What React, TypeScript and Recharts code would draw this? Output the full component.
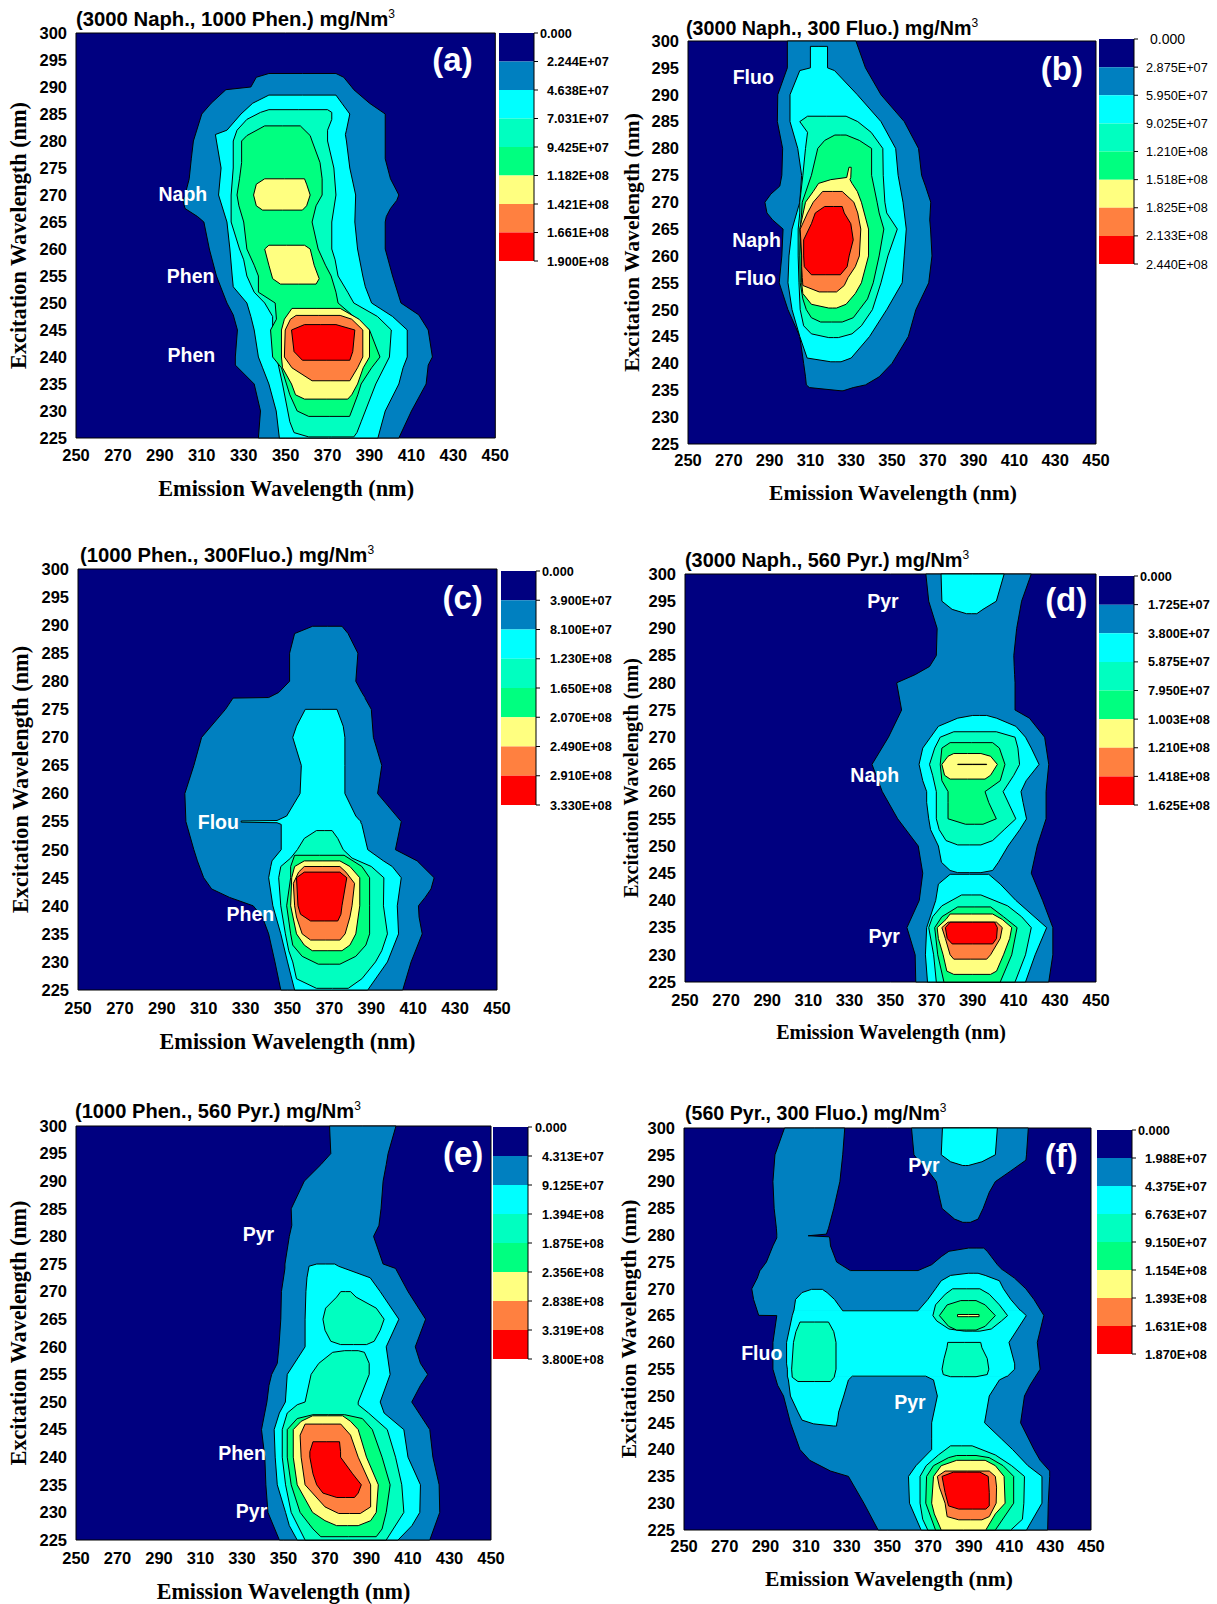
import { AreaChart, Area, BarChart, Bar, XAxis, YAxis, ReferenceDot } from "recharts";

// contour levels, dark blue background first
const levelColors = ["#000080", "#0080C0", "#00FFFF", "#00FFC0", "#00FF80", "#FFFF80", "#FF8040", "#FF0000"];
const xTicks = [250, 270, 290, 310, 330, 350, 370, 390, 410, 430, 450];
const yTicks = [225, 230, 235, 240, 245, 250, 255, 260, 265, 270, 275, 280, 285, 290, 295, 300];
const barTicks = [0, 1, 2, 3, 4, 5, 6, 7, 8];
const background = [[225, 250, 450], [300, 250, 450]];

// every contour row is [excitation, emission left, emission right]
// (a)
const a1 = [[225,337,404],[230,338,410],[235,335,417],[238.5,326,418],[240,326,420],[245,327,418],[247.8,325,413.5],[250,322,405],[255,317,401],[260,313.6,397.5],[265,311,397.5],[266,308,398],[267.5,302,400],[269,301,403],[270,302,404],[273,304,400],[276.7,305,397.5],[280,306,397.5],[285,310,397.5],[287,314.5,390],[289.5,321.5,382.5],[290,333.4,381.5],[291.8,336,377.7],[292.5,342,374]];
const a2 = [[225,347,394],[230,345.5,397.5],[235,342,404],[238,339,406],[240,337,408],[245,335,408],[247.5,333.4,401],[250,331.5,391],[253,325,388],[255,324.5,386.8],[260,323.4,384.3],[265,322,383],[270,318,383.4],[275,319.2,380.6],[280,317,379],[281.2,316.5,378.5],[282,322,379],[285,328.7,380.6],[287,334.3,376.8],[288.5,342,374]];
const a3 = [[225.2,361,382.5],[226,354,384],[228,352,386],[230,351,388],[235,348.5,393],[240,345.7,399.5],[245,343.8,400.4],[247.5,343.8,393.8],[250,340,382.5],[252,335,379.6],[255,331.5,375],[258,330,373.6],[260,328,372],[265,324,372],[270,324,374],[275,325,373],[280,325,370],[282,326.8,370],[284,331.5,372],[285.3,338,372],[285.8,342,370]];
const a4 = [[229,361,380.5],[230,355.5,381.5],[233,352,384.4],[235,350.4,386],[238,348,391],[240,343.8,395],[245,342.8,390],[247,345.6,384],[250,345,375],[252,337,374],[255,337,371.7],[257,335,369],[260,331.5,365.5],[265,330,362.6],[268,327.7,364.5],[270,326.8,367.4],[273,328,367.4],[276,329,366.4],[280,329,362.6],[281,331.5,361.7],[282.8,340,357]];
const a5Upper = [[267.2,339,358],[268,336,360],[270,334.7,361.7],[272,336,360],[273,340,359]];
const a5Mid = [[253.5,347.5,364.5],[254.5,343.8,366],[257,342,363.6],[260,340,361.7],[260.7,342,359]];
const a5Low = [[232.2,359,379.6],[233,354.7,381.5],[235,352.8,384.3],[238,348.5,387],[240,348,390],[245,348,390],[247,349.4,385],[249,353,376]];
const a6 = [[235.6,362.6,380.6],[238,353,384.3],[240,349.4,386.8],[245,349.8,386.8],[247,352.3,381.5],[247.7,355,376]];
const a7 = [[239.4,358,380.6],[241,354,382],[245,352.8,383],[246,359,374]];

// (b)
const b1 = [[234.9,325,326],[235.5,309.5,331],[236,308,337],[237.5,307.6,343.7],[240,306.7,350],[245,304.8,358],[250,299,361.7],[255,294.7,368],[260,296,369.6],[265,296.6,368.9],[266.7,291.5,368.5],[268,288.7,368.7],[270,287.7,369],[271.5,290.6,367.7],[273,295,366.4],[275,296,364.5],[280,296.4,363],[285,293.8,356],[290,294,344.6],[295,298.7,337],[300,298.7,332.3]];
const b2 = [[240.3,320,325],[241,308.4,330],[245,304.8,339],[250,301,347.4],[255,299,355],[260,299.5,356],[265,301,357],[270,304.8,355.4],[275,305.7,353],[280,303.8,351.8],[285,300,344.6],[290,300,333],[294.5,304.8,321.8],[295,310,318.4],[299,310,318.4]];
const b3 = [[244.8,319,323.7],[245.5,310.5,330.4],[247,306.7,335],[250,305,340.4],[255,304.4,344.6],[260,304,348],[265,304,352.6],[268,304.8,347.4],[270,304.8,346.5],[275,306.3,345.7],[280,307.6,345.5],[283,308.6,339.8],[285,304.8,333.2],[286,308.6,327.5]];
const b4 = [[247.7,315,325.6],[248.5,310.5,331],[250,308,334],[252,306.3,338],[255,305,340.8],[260,304.8,343.7],[265,305,346],[268,305.7,343.7],[270,306,342.7],[275,310.5,340],[280,313.6,340],[281.5,317,334],[282.5,322,327.5]];
const b5 = [[250.3,319,322.8],[251,310.5,327.5],[253,306.3,332],[255,305.7,335],[260,305.7,338.5],[265,304.8,338.5],[270,307.6,335],[272,311.4,333],[273.5,314,330.4],[274.2,320,329.4],[274.6,327.8,329.8],[276.5,328.9,330]];
const b6 = [[253.3,314.3,322.8],[254.5,306.3,326.6],[256,306,328.5],[258,305.7,332],[260,305.7,334],[265,305,334.7],[268,308.6,333.2],[270,311.4,331.3],[272,316,325.6]];
const b7 = [[256.5,310.5,324.7],[258,307,328],[260,306.7,329],[263,306.7,331],[266,310.5,329.8],[268,312.4,326.6],[269.2,317,325.6]];

// (c)
const c1 = [[225,346.8,405],[230,344,409],[235,341,414.3],[238,338,412.8],[240,333.6,412.5],[241.5,322.3,415.7],[243,313.8,418.5],[245,310,420],[248,307,411.9],[250,305.3,401.5],[255,301.5,404.3],[260,301,393],[265,305.3,395],[270,309,391],[275,320.4,390],[277,324,387],[277.1,341,387],[278,345.8,385.5],[280,351,382.6],[285,351,383.6],[288.5,353.4,378.9],[289.8,362,376]];
const c2 = [[225,353.4,388.3],[230,350,397.7],[235,346.8,403],[240,343,402.4],[245,341,404.3],[247,342,400],[248,342.6,395.8],[250,347,388.3],[254.5,347,385.5],[254.8,345,385],[254.9,327.9,385],[255.1,327.9,385],[255.2,345,384.5],[256,349.6,382.6],[260,356,377.4],[265,356.6,377.4],[270,352.5,377.4],[272,354.3,376.6],[275,358.5,373.6]];
const c3 = [[225.3,363.8,379],[227,354.3,385.5],[230,352.5,392],[232,350.6,395],[235,349,397.7],[240,346.8,395.8],[245,345.8,396],[247,346.8,390],[248.5,351.5,380.8],[250,354.7,376.6],[252,358,374],[253.4,363.8,371.3]];
const c4 = [[229.6,364.7,375],[231,357,382.6],[233,352.5,387.4],[235,351.5,389.2],[240,349.6,389.2],[245,351.5,389.2],[247,351.5,385.5],[249,353.4,377]];
const c5 = [[232,361.8,376],[233,358,379.8],[235,354.3,382.6],[240,351.5,384.5],[245,352,384.5],[247,353.4,379.8],[248,358,375]];
const c6 = [[233.9,361,375],[235,357,377.5],[238,354.3,379.8],[240,353.4,380.8],[244,352.8,382],[246,355.3,377.9],[247,358,375]];
const c7 = [[237.3,361,374],[238.5,356.2,375.5],[240,355,376],[245,354.3,378.3],[246,358,375]];

// (d)
const d1 = [[225,362.3,427],[230,362,429],[235,358,429],[240,364,424],[245,365.7,418.5],[250,363.5,421.4],[255,353.5,425.7],[260,346,425.7],[265,341,427],[270,349,425],[273.5,353.5,417.6],[275,355.4,410.6],[280,353,410.6],[281.5,362,410.4],[283,369,410.2],[285,372.3,410],[290,372.7,411.4],[295,368.6,413.8],[300,367.2,418.5]];
const d2Top = [[292.7,387,392],[293.5,380,395],[295,375,401.5],[300,374.6,405.3]];
const d2Mid = [[245.1,382.7,394],[245.5,379,399.7],[247,374.8,402.5],[250,373.3,407.2],[253,369.5,412.9],[255,368.6,416.2],[258,367.6,414.5],[260,367.6,413.5],[262,365.7,416],[265,363.9,422.3],[268,365.7,418.5],[270,369.5,415.7],[272,373.3,411],[273.5,382.7,401.6],[274,390,396.8]];
const d2Low = [[225,368,415.7],[230,367,420.4],[235,367.6,426],[240,372,411],[243,373.3,403.4],[244.8,379,397.8]];
const d3Mid = [[250.2,382.7,394],[251,377,399.7],[253,373.7,405.3],[255,372.3,411],[260,372.3,404.8],[263,370.5,410],[265,369,412.8],[268,371.5,412],[270,374.2,410.6],[271,380.8,401.5]];
const d3Low = [[225,372.3,410.6],[230,371,415.7],[235,368.6,418.5],[237,370.5,413.8],[239,375,407],[241,384.6,394]];
const d4Mid = [[254,386.5,395],[255,378,401.5],[258,378,397.8],[260,378,396],[262,375,403.4],[265,374.2,405.7],[268,375,403],[269,379,399.7]];
const d4Low = [[225,376,403.4],[230,373,409],[235,371.5,411.6],[237,375,405],[238.8,382.7,398.7]];
const d5Mid = [[262.3,379,396],[263,376.3,398.7],[265,375,402],[266.5,378,398.7],[267,380.8,394]];
const d5Low = [[226.4,380.8,398.7],[227,377.4,401.6],[230,375.6,405],[233,373.3,408],[235,372.7,409],[236.5,377,404.4],[237.5,379,399.7]];
const d6Mid = [[264.97,382.7,396.8],[265.03,382.7,396.8]];
const d6Low = [[229.2,380.8,396.8],[230,379,398.7],[233,376.7,403.4],[235,375,404.4],[236,378,401.6]];
const d7 = [[232,380,399.7],[233,377.6,401.6],[235,376.7,402],[236,379,400.6]];

// (e)
const e1 = [[225,348,420.5],[230,342.5,425.3],[235,341.5,425],[240,341,422],[245,339.4,420.5],[250,342,411.8],[253,343,416],[255,344.3,419.5],[257,347,416],[260,347.8,413.5],[265,348.7,418.5],[270,349,410],[274.2,350.7,404],[275,350.7,398],[280,352.8,393.4],[282,354,396],[285,353.7,397],[290,360,398],[293,368,399.5],[295,372.8,400.4],[300,372.2,404.2]];
const e2 = [[225,356.6,405.2],[227.6,352.8,411.9],[230,351,415.7],[235,347,416],[240,346,410],[245,345.5,408],[248,348,398.5],[250,350.9,396.6],[255,351.8,401.4],[260,360.4,399.5],[265,360.4,405.6],[270,360.8,396.6],[272.5,361.3,391.8],[274.6,362.3,376.5],[275,366,374.7]];
const e3Upper = [[260.4,377.5,390],[261,372.8,393.7],[263,370,396.6],[265,369,398.5],[267,370.3,394.7],[269,375.6,385],[270,377.6,382.3]];
const e3Low = [[225,360.4,399.5],[230,353.7,408],[235,351,407],[240,349.4,404],[245,349.4,400],[248,351.8,391],[249.5,356.6,386],[250,360.4,386],[255,363.3,391.3],[257,367,391.3],[259,373.7,389],[259.3,379.5,386]];
const e4 = [[225.6,368,394.7],[227,364.2,397.5],[230,358,399.5],[235,353.7,401.4],[240,351.8,397.5],[245,351.8,392.8],[247,356.6,388],[247.7,364.2,379.5]];
const e5 = [[227.6,375.6,386],[228.5,370,392],[230,364,394.7],[235,356.6,395.7],[240,354.7,390],[245,354.7,386],[246.5,358.5,382.3],[247.5,364,378.5]];
const e6 = [[229.8,376.6,387],[231,370,392],[235,360.4,392],[240,358.5,386],[244,358,382.3],[246,360.4,377.6]];
const e7 = [[232.7,375.7,384.2],[233.5,369,386],[235,366,387.5],[237,364.2,383.3],[240,362.7,377.5],[241,362.7,377.5],[242.8,364.2,377]];

// (f)
const f1Body = [[225,345.4,428.7],[230,338.4,429],[235,330.8,429.7],[236,322,429.7],[238,311.8,425],[240,307,422],[245,302.3,415.4],[250,298.9,417.3],[252,296,420],[255,293.7,425],[260,293.7,423.6],[265,295.6,426.8],[265.05,286.7,426.8],[268,284.2,422],[270,283.3,418],[272,286,412.4],[273.5,287.4,406.8]];
const f1Arm = [[273.4,287.4,331.7],[275,290.5,325],[278,293.7,322],[279.5,295.6,321.6],[279.7,295.6,321.2],[279.9,295.6,311],[280.2,295.6,320],[281.3,295.4,321],[285,294.3,323.6],[290,293.7,326.6],[295,294.7,328],[300,299.4,329]];
const f1Bump = [[273.4,331.7,406.8],[273.4,365,406.8],[274.5,371.7,404],[276,376.4,401],[277,380.2,399],[277.6,389.8,397.3]];
const f1Top = [[282.4,387,390.7],[283,383,394.5],[285,376.8,397],[288,375,400],[290,374,403],[292,370,410.6],[294,365,418],[295,363,418.3],[300,361.8,419.2]];
const f2Top = [[293,387,389.7],[293.7,381,396.4],[295,376.4,403],[300,377,404]];
const f2Main = [[253.6,300.8,408.7],[255,300.8,412.5],[256,300.4,412.5],[260,300.4,409.7],[265,303.2,418.2],[266,304,415.4]];
const f2Stem = [[225,366.5,418.3],[230,360.8,425.9],[235,360.3,425.9],[237,364,419],[240,371.7,411.5],[242,371.7,406],[245,371.7,397.7],[250,374.5,400],[253,372.6,405],[253.7,368.8,408.7]];
const f2Lobe = [[244.4,323.6,325],[244.8,313.7,325],[245.5,308,325.5],[247,306,326],[250,302.3,328.5],[253,301.3,330.8],[253.7,300.8,332.7],[253.7,300.8,368.8]];
const f2UpLeft = [[265.9,304,365],[265.9,304,328],[268,304.8,324],[269.3,308,320.3],[269.9,312.7,318]];
const f2UpRight = [[265.9,365,415.4],[268,369.8,410.6],[270,373.6,407],[271.5,376.4,405],[272.5,381,398],[272.9,389.7,394.5]];
const f3Box = [[252.7,306,322],[253.5,303.2,323.8],[255,302.9,324.7],[260,303.8,324.7],[262,305,323.6],[263.8,307,321]];
const f3Upper = [[262.1,387.8,395.4],[262.5,380.2,401],[264,374.2,406],[265,372.3,409],[267,373.6,405],[269,378.4,400],[270,382,395.4]];
const f3Stem = [[253.6,381,393.5],[254,377.4,399],[255,376.8,399.8],[257,377.8,399],[259,379.2,396.4],[260,379.6,395.8]];
const f3Low = [[225,369.8,410.6],[227,367.3,416.3],[230,366,417],[235,366,417.3],[237,369,411],[239,375,403],[240.7,381,391.6]];
const f4Upper = [[262.3,384,393.5],[263,380,398],[265,375.5,403],[267,379.3,398],[267.8,386,393.5]];
const f4Low = [[225,373.6,403],[230,368.8,412],[235,369.2,412],[237,372.6,406.8],[238.5,380,400],[238.9,384,393.5]];
const f5Upper = [[264.8,384.4,395],[265.2,384.4,395]];
const f5Low = [[225,376.4,398.3],[228,373,403],[230,371.7,407.8],[235,372.6,407.3],[237,376.4,403],[238,384,398]];
const f6 = [[226.9,385,396.4],[227.5,379.3,400],[230,378.3,403.4],[233,375.5,403.6],[235,374.5,403],[236,378.3,400]];
const f7 = [[228.9,385,398.3],[229.5,380,400],[232,378.3,400],[235,376.8,399.5],[235.8,382.4,395.4]];

// colour bar labels
const barA = ["0.000", "2.244E+07", "4.638E+07", "7.031E+07", "9.425E+07", "1.182E+08", "1.421E+08", "1.661E+08", "1.900E+08"];
const barB = ["0.000", "2.875E+07", "5.950E+07", "9.025E+07", "1.210E+08", "1.518E+08", "1.825E+08", "2.133E+08", "2.440E+08"];
const barC = ["0.000", "3.900E+07", "8.100E+07", "1.230E+08", "1.650E+08", "2.070E+08", "2.490E+08", "2.910E+08", "3.330E+08"];
const barD = ["0.000", "1.725E+07", "3.800E+07", "5.875E+07", "7.950E+07", "1.003E+08", "1.210E+08", "1.418E+08", "1.625E+08"];
const barE = ["0.000", "4.313E+07", "9.125E+07", "1.394E+08", "1.875E+08", "2.356E+08", "2.838E+08", "3.319E+08", "3.800E+08"];
const barF = ["0.000", "1.988E+07", "4.375E+07", "6.763E+07", "9.150E+07", "1.154E+08", "1.393E+08", "1.631E+08", "1.870E+08"];

// [text, emission, excitation]
const notesA = [["Naph", 301, 270.2], ["Phen", 304.7, 254.9], ["Phen", 305, 240.3]];
const notesB = [["Fluo", 282, 293.2], ["Naph", 283.6, 262.9], ["Fluo", 283, 255.9]];
const notesC = [["Flou", 317, 255], ["Phen", 332.3, 238.6]];
const notesD = [["Pyr", 346.3, 295], ["Naph", 342.3, 263], ["Pyr", 346.9, 233.5]];
const notesE = [["Pyr", 337.9, 280.5], ["Phen", 330, 240.8], ["Pyr", 334.6, 230.2]];
const notesF = [["Pyr", 367.9, 293], ["Fluo", 288.2, 258], ["Pyr", 361, 248.8]];

// [level, rows, which ends get closed]
const panels = [
  {
    title: "(3000 Naph., 1000 Phen.) mg/Nm", tag: "(a)", tagAt: [429.6, 295.1], notes: notesA, bar: barA, barWeight: 700,
    plot: [75.7, 32.7, 495, 437.7], colorbar: [499, 33, 534, 261], titleAt: [76, 8], titleSize: 20.3, labelSize: 22.3,
    xDx: 0.5, xOffset: 6, yOffset: 14, xMargin: 5, firstDx: 0, labelDx: 7,
    contours: [[1, a1], [2, a2], [3, a3], [4, a4], [5, a5Upper], [5, a5Mid], [5, a5Low], [6, a6], [7, a7]],
  },
  {
    title: "(3000 Naph., 300 Fluo.) mg/Nm", tag: "(b)", tagAt: [433.3, 294.9], notes: notesB, bar: barB, barWeight: 400,
    plot: [688, 41, 1096, 444], colorbar: [1099, 39, 1134, 264], titleAt: [686, 17], titleSize: 19.7, labelSize: 21.6,
    xDx: 1, xOffset: 8, yOffset: 15, xMargin: 4, firstDx: 10, labelDx: 6, firstSize: 14,
    contours: [[1, b1], [2, b2], [3, b3], [4, b4], [5, b5], [6, b6], [7, b7]],
  },
  {
    title: "(1000 Phen., 300Fluo.) mg/Nm", tag: "(c)", tagAt: [433.6, 294.9], notes: notesC, bar: barC, barWeight: 700,
    plot: [78, 569, 497, 990], colorbar: [501, 571, 536, 805], titleAt: [80, 544], titleSize: 20.3, labelSize: 22.3,
    xDx: 0, xOffset: 5, yOffset: 14, xMargin: 6, firstDx: 0, labelDx: 8,
    contours: [[1, c1], [2, c2], [3, c3], [4, c4], [5, c5], [6, c6], [7, c7]],
  },
  {
    title: "(3000 Naph., 560 Pyr.) mg/Nm", tag: "(d)", tagAt: [435.5, 295.4], notes: notesD, bar: barD, barWeight: 700,
    plot: [685, 574, 1096, 982], colorbar: [1099, 576, 1134, 805], titleAt: [685, 549], titleSize: 19.9, labelSize: 20,
    xDx: 0.5, xOffset: 7, yOffset: 18, xMargin: 6, firstDx: 0, labelDx: 8,
    contours: [[1, d1], [2, d2Top], [2, d2Mid], [2, d2Low], [3, d3Mid], [3, d3Low], [4, d4Mid], [4, d4Low], [5, d5Mid], [5, d5Low], [6, d6Mid], [6, d6Low], [7, d7]],
  },
  {
    title: "(1000 Phen., 560 Pyr.) mg/Nm", tag: "(e)", tagAt: [436.6, 295], notes: notesE, bar: barE, barWeight: 700,
    plot: [76, 1126, 491, 1540], colorbar: [493, 1127, 528, 1359], titleAt: [75, 1100], titleSize: 20.1, labelSize: 22.1,
    xDx: 0, xOffset: 5, yOffset: 14, xMargin: 6, firstDx: 1, labelDx: 8,
    contours: [[1, e1], [2, e2], [3, e3Upper], [3, e3Low], [4, e4], [5, e5], [6, e6], [7, e7]],
  },
  {
    title: "(560 Pyr., 300 Fluo.) mg/Nm", tag: "(f)", tagAt: [435.4, 295], notes: notesF, bar: barF, barWeight: 700,
    plot: [684, 1128, 1091, 1530], colorbar: [1097, 1130, 1132, 1354], titleAt: [685, 1102], titleSize: 19.6, labelSize: 21.6,
    xDx: 1.5, xOffset: 8, yOffset: 16, xMargin: 4, firstDx: 0, labelDx: 7,
    contours: [
      [1, f1Body, "bottom"], [1, f1Arm, "top"], [1, f1Bump, "top"], [1, f1Top],
      [2, f2Top], [2, f2Main, "none"], [2, f2Stem, "bottom"], [2, f2Lobe, "bottom"], [2, f2UpLeft, "top"], [2, f2UpRight, "top"],
      [3, f3Box], [3, f3Upper], [3, f3Stem], [3, f3Low], [4, f4Upper], [4, f4Low], [5, f5Upper], [5, f5Low], [6, f6], [7, f7],
    ],
  },
];

const buildRows = (rows, close = "both") => {
  const table = rows.map(([y, left, right]) => ({ y, range: [left, right] }));
  const pinch = ([y, left, right]) => ({ y, range: [(left + right) / 2, (left + right) / 2] });
  if (close === "both" || close === "bottom") table.unshift(pinch(rows[0]));
  if (close === "both" || close === "top") table.push(pinch(rows[rows.length - 1]));
  return table;
};

const sans = "'Liberation Sans', Arial, sans-serif";
const serif = "'Liberation Serif', 'Times New Roman', serif";
const LEFT = 72;
const TOP = 8;
const RIGHT = 16;
const BOTTOM = 64;

function Contour({ panel }) {
  const [l, t, r, b] = panel.plot;
  const w = r - l;
  const h = b - t;
  return (
    <div style={{ position: "absolute", left: l - LEFT, top: t - TOP }}>
      <AreaChart
        layout="vertical"
        width={LEFT + w + RIGHT}
        height={TOP + h + BOTTOM}
        margin={{ top: TOP, right: RIGHT, left: 0, bottom: 0 }}
      >
        <XAxis
          type="number"
          domain={[250, 450]}
          ticks={xTicks}
          interval={0}
          height={BOTTOM}
          tickLine={false}
          axisLine={false}
          tickMargin={panel.xMargin}
          tick={{ fontFamily: sans, fontWeight: 700, fontSize: 16.5, fill: "#000" }}
          label={{
            value: "Emission Wavelength (nm)",
            position: "insideBottom",
            offset: panel.xOffset,
            dx: panel.xDx,
            style: { fontFamily: serif, fontWeight: 700, fontSize: panel.labelSize, fill: "#000" },
          }}
        />
        <YAxis
          type="number"
          dataKey="y"
          reversed
          domain={[225, 300]}
          ticks={yTicks}
          interval={0}
          width={LEFT}
          tickLine={false}
          axisLine={false}
          tickMargin={3}
          tick={{ fontFamily: sans, fontWeight: 700, fontSize: 16.5, fill: "#000" }}
          label={{
            value: "Excitation Wavelength (nm)",
            angle: -90,
            position: "insideLeft",
            offset: panel.yOffset,
            style: { fontFamily: serif, fontWeight: 700, fontSize: panel.labelSize, fill: "#000", textAnchor: "middle" },
          }}
        />
        <Area
          data={buildRows(background)}
          dataKey="range"
          type="linear"
          fill={levelColors[0]}
          fillOpacity={1}
          stroke="#000"
          strokeWidth={1}
          dot={false}
          activeDot={false}
          isAnimationActive={false}
        />
        {panel.contours.map(([level, rows, close], i) => (
          <Area
            key={i}
            data={buildRows(rows, close)}
            dataKey="range"
            type="linear"
            fill={levelColors[level]}
            fillOpacity={1}
            stroke="#000"
            strokeWidth={1}
            dot={false}
            activeDot={false}
            isAnimationActive={false}
          />
        ))}
        {panel.notes.map(([text, x, y]) => (
          <ReferenceDot
            key={text + y}
            x={x}
            y={y}
            r={0}
            stroke="none"
            fill="none"
            ifOverflow="visible"
            label={{ value: text, position: "center", style: { fontFamily: sans, fontWeight: 700, fontSize: 19.5, fill: "#fff" } }}
          />
        ))}
        <ReferenceDot
          x={panel.tagAt[0]}
          y={panel.tagAt[1]}
          r={0}
          stroke="none"
          fill="none"
          ifOverflow="visible"
          label={{ value: panel.tag, position: "center", style: { fontFamily: sans, fontWeight: 700, fontSize: 33, fill: "#fff" } }}
        />
      </AreaChart>
    </div>
  );
}

function ColorBar({ panel }) {
  const [l, t, r, b] = panel.colorbar;
  const BAR_RIGHT = 80;
  const row = [{ name: "bar", ...Object.fromEntries(levelColors.map((_, i) => ["band" + i, 1])) }];
  const renderTick = ({ x, y, payload }) => (
    <text
      x={payload.value === 0 ? x + panel.firstDx : x + panel.labelDx}
      y={y + 4.5}
      fontFamily={sans}
      fontWeight={panel.barWeight}
      fontSize={payload.value === 0 && panel.firstSize ? panel.firstSize : 12.7}
      fill="#000"
    >
      {panel.bar[payload.value]}
    </text>
  );
  return (
    <div style={{ position: "absolute", left: l, top: t - 8 }}>
      <BarChart
        width={r - l + BAR_RIGHT}
        height={b - t + 16}
        data={row}
        barCategoryGap={0}
        margin={{ top: 8, right: 0, left: 0, bottom: 8 }}
      >
        <XAxis hide dataKey="name" height={0} />
        <YAxis
          orientation="right"
          reversed
          domain={[0, 8]}
          ticks={barTicks}
          interval={0}
          width={BAR_RIGHT}
          tickSize={4}
          tick={renderTick}
          stroke="#000"
        />
        {levelColors.map((color, i) => (
          <Bar key={color} dataKey={"band" + i} stackId="bar" fill={color} isAnimationActive={false} />
        ))}
      </BarChart>
    </div>
  );
}

export default function App() {
  return (
    <div style={{ position: "absolute", left: 0, top: 0, width: 1217, height: 1604 }}>
      {panels.map((panel) => (
        <div key={panel.tag}>
          <Contour panel={panel} />
          <ColorBar panel={panel} />
          <div
            style={{
              position: "absolute",
              left: panel.titleAt[0],
              top: panel.titleAt[1],
              fontFamily: sans,
              fontWeight: 700,
              fontSize: panel.titleSize,
              whiteSpace: "nowrap",
            }}
          >
            {panel.title}
            <sup style={{ fontSize: 12, fontWeight: 400, lineHeight: 0 }}>3</sup>
          </div>
        </div>
      ))}
    </div>
  );
}
